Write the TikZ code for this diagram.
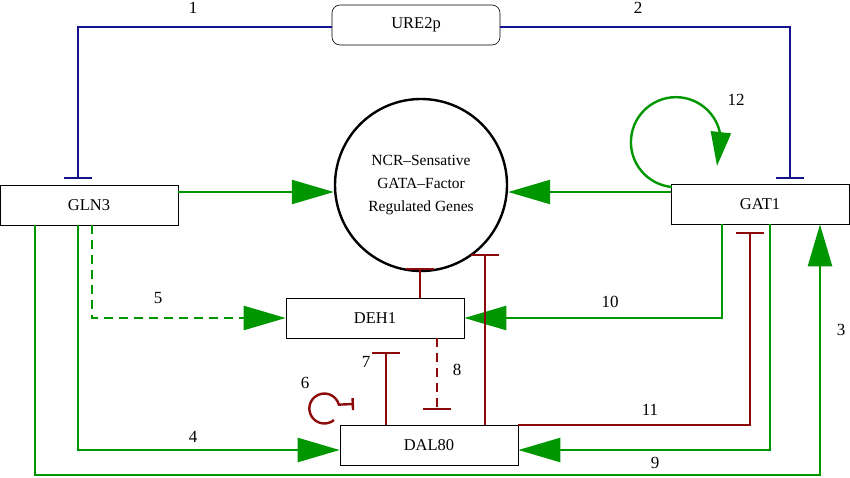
\documentclass[tikz,border=0pt]{standalone}
\usepackage{fontspec}
\setmainfont{Liberation Serif}
\usetikzlibrary{arrows.meta}
\definecolor{gblue}{RGB}{20,20,140}
\definecolor{ggreen}{RGB}{0,150,0}
\definecolor{gred}{RGB}{140,10,10}
\begin{document}
\begin{tikzpicture}[x=1pt,y=-1pt,
  box/.style={draw,line width=0.6pt,minimum width=178pt,minimum height=40pt,inner sep=0pt,font=\fontsize{16.5}{18}\selectfont},
  lab/.style={font=\fontsize{17}{18}\selectfont},
  act/.style={ggreen,line width=2.4pt,-{Triangle[length=42pt,width=24pt]}},
  inh/.style={line width=2.4pt,-{Bar[width=28pt,line width=2.4pt]}},
  rinh/.style={inh,gred},
  binh/.style={inh,gblue}]
\useasboundingbox (0,0) rectangle (850,478);
\node[box,rounded corners=8pt,minimum width=168pt] (ure) at (416,25) {URE2p};
\node[box] (gln) at (89,205) {GLN3};
\node[box] (gat) at (760,204) {GAT1};
\node[draw,circle,line width=2.4pt,minimum size=172pt,align=center,font=\fontsize{15.5}{23}\selectfont] (ncr) at (421,185) {NCR\textendash Sensative\\GATA\textendash Factor\\Regulated Genes};
\node[box] (deh) at (375,318) {DEH1};
\node[box] (dal) at (429,445) {DAL80};
\coordinate (t1) at (78,179);
\coordinate (t2) at (790,179);
\draw[binh] (ure.west |- 0,27) -| (t1);
\draw[binh] (ure.east |- 0,27) -| (t2);
\node[lab] at (193,8) {1};
\node[lab] at (638,8) {2};
\draw[act] (gln.east |- 0,192) -- (ncr.west |- 0,192);
\draw[act] (gat.west |- 0,192) -- (ncr.east |- 0,192);
\coordinate (l12) at (717,166);
\draw[act,-{Triangle[length=34pt,width=20pt]}] (672,187) arc[start angle=95,end angle=352,radius=45] -- (l12);
\node[lab] at (736,100) {12};
\draw[act,dashed,dash pattern=on 9pt off 6pt] (gln.south -| 92,0) |- (deh.west);
\node[lab] at (158,298) {5};
\draw[act] (gat.south -| 722,0) |- (deh.east);
\node[lab] at (610,302) {10};
\coordinate (tn1) at (420,268);
\coordinate (tn2) at (485,254);
\draw[rinh] (deh.north -| 420,0) -- (tn1);
\draw[rinh] (dal.north -| 485,0) -- (tn2);
\coordinate (t7) at (386,352);
\draw[rinh] (dal.north -| 386,0) -- (t7);
\node[lab] at (366,362) {7};
\coordinate (t8) at (437,410);
\draw[rinh,dashed,dash pattern=on 9pt off 6pt] (deh.south -| 437,0) -- (t8);
\node[lab] at (457,370) {8};
\coordinate (t6) at (354,404);
\draw[rinh,-{Bar[width=12pt,line width=2.4pt]}] (334,420) arc[start angle=50,end angle=345,radius=15] -- (t6);
\node[lab] at (305,383) {6};
\draw[act] (gln.south -| 78,0) |- (dal.west |- 0,450);
\node[lab] at (193,437) {4};
\coordinate (t11) at (750,232);
\draw[rinh] (dal.east |- 0,425) -| (t11);
\node[lab] at (650,410) {11};
\draw[act] (gat.south -| 770,0) |- (dal.east |- 0,450);
\node[lab] at (655,463) {9};
\draw[act] (gln.south -| 35,0) |- (820,475) -- (gat.south -| 820,0);
\node[lab] at (841,330) {3};
\end{tikzpicture}
\end{document}
